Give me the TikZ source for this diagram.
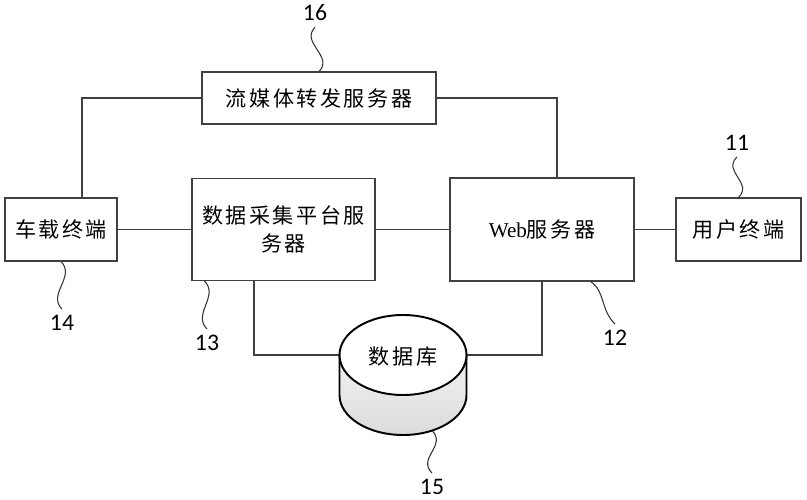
\documentclass[tikz,border=0pt]{standalone}
\usepackage{fontspec}
\setmainfont{Carlito}
\newfontfamily\cjk[LetterSpace=12]{Noto Sans CJK SC}
\newfontfamily\webfont{Liberation Serif}

\begin{document}
\begin{tikzpicture}[
  box/.style={draw=black!75,line width=0.6pt,inner sep=0pt,font=\cjk\fontsize{12}{16}\selectfont},
  lab/.style={font=\fontsize{13.5}{15}\selectfont},
  wire/.style={draw=black!75,line width=0.6pt},
  lead/.style={draw=black!80,line width=0.6pt}]
\useasboundingbox (0,0) rectangle (16.14,-10);

\node[box,minimum width=4.68cm,minimum height=1.04cm] (stream) at (6.38,-1.96) {流媒体转发服务器};
\node[box,minimum width=2.24cm,minimum height=1.26cm] (vehicle) at (1.22,-4.59) {车载终端};
\node[box,minimum width=3.66cm,minimum height=2.04cm,align=center] (collect) at (5.67,-4.59) {数据采集平台服\\务器};
\node[box,minimum width=3.68cm,minimum height=2.06cm] (web) at (10.84,-4.59) {{\webfont Web}服务器};
\node[box,minimum width=2.5cm,minimum height=1.26cm] (user) at (14.77,-4.59) {用户终端};

\coordinate (dbL) at (6.79,-7.1);
\coordinate (dbR) at (9.33,-7.1);
\coordinate (dbB) at (8.64,-8.61);

\draw[wire] (vehicle.east) -- (collect.west);
\draw[wire] (collect.east) -- (web.west);
\draw[wire] (web.east) -- (user.west);
\draw[wire] ([xshift=0.42cm]vehicle.north) |- (stream.west);
\draw[wire] ([xshift=0.3cm]web.north) |- (stream.east);
\draw[wire] ([xshift=-0.59cm]collect.south) |- (dbL);
\draw[wire] (web.south) |- (dbR);

\path[top color=white,bottom color=black!14] (dbL) -- (6.79,-7.9) arc (180:360:1.27 and 0.8) -- (dbR) arc (0:180:1.27 and 0.8);
\draw[line width=1.1pt] (dbL) -- (6.79,-7.9) arc (180:360:1.27 and 0.8) -- (dbR);
\draw[line width=1.1pt,fill=white] (8.06,-7.1) ellipse (1.27 and 0.8);
\node[font=\cjk\fontsize{12}{16}\selectfont] (db) at (8.06,-7.14) {数据库};

\node[lab] (lab16) at (6.3,-0.26) {16};
\node[lab] (lab11) at (14.74,-2.86) {11};
\node[lab] (lab14) at (1.24,-6.46) {14};
\node[lab] (lab13) at (4.14,-6.86) {13};
\node[lab] (lab12) at (12.3,-6.76) {12};
\node[lab] (lab15) at (8.64,-9.74) {15};

\draw[lead] (stream.north) .. controls +(0.3,0.3) and +(-0.3,-0.3) .. (lab16.south);
\draw[lead] (user.north) .. controls +(0.3,0.3) and +(-0.3,-0.3) .. (lab11.south);
\draw[lead] (vehicle.south) .. controls +(0.3,-0.3) and +(-0.3,0.3) .. (lab14.north);
\draw[lead] ([xshift=0.26cm]collect.south west) .. controls +(0.3,-0.3) and +(-0.3,0.3) .. (lab13.north);
\draw[lead] ([xshift=-0.88cm]web.south east) .. controls +(0.3,-0.2) and +(-0.3,0.3) .. (lab12.north);
\draw[lead] (dbB) .. controls +(0.3,-0.3) and +(-0.3,0.3) .. (lab15.north);

\end{tikzpicture}
\end{document}
